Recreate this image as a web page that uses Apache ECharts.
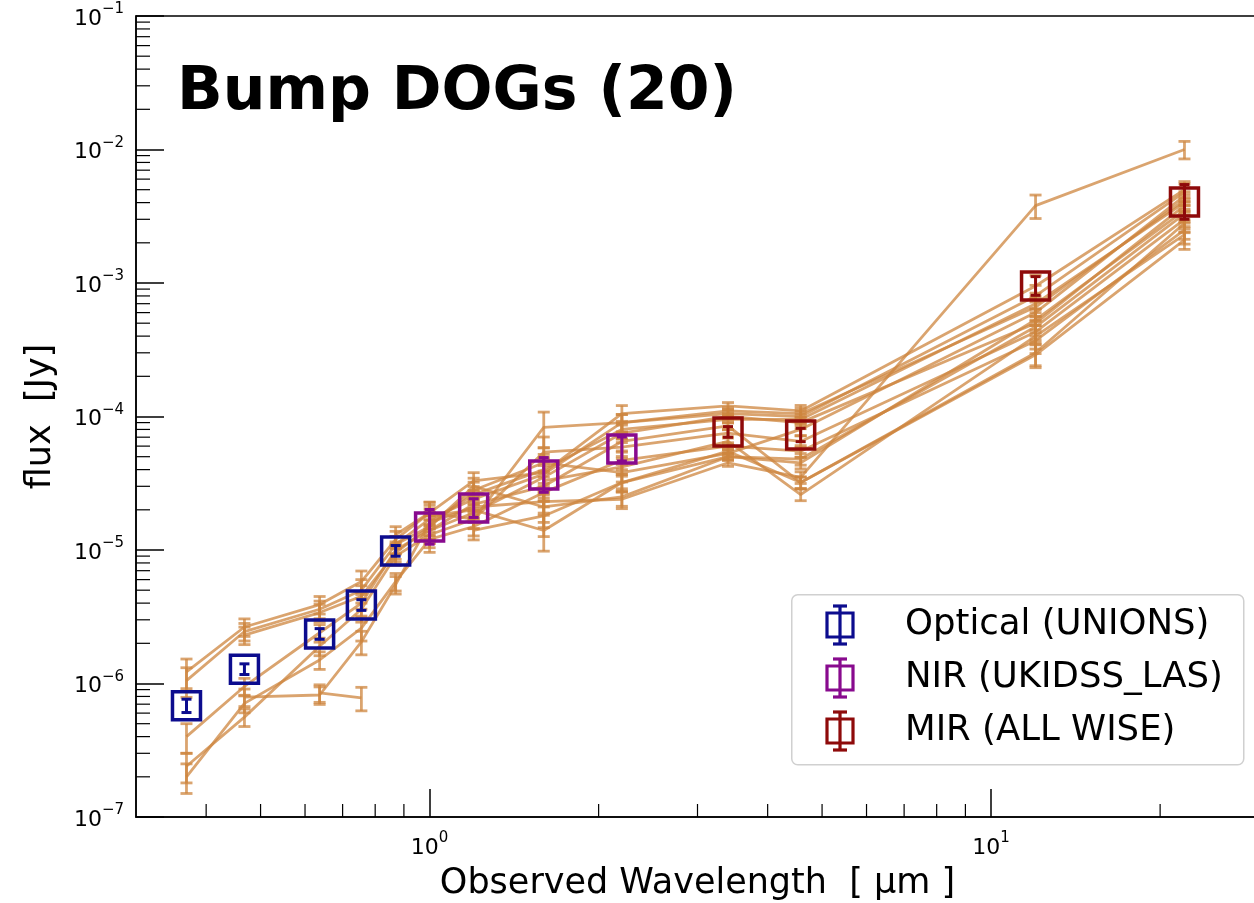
<!DOCTYPE html>
<html>
<head>
<meta charset="utf-8">
<script src="https://cdn.jsdelivr.net/npm/echarts@6/dist/echarts.min.js"></script>
<style>html,body{margin:0;padding:0;background:#fff}#c{width:1254px;height:903px}</style>
</head>
<body>
<div id="c"></div>
<script>
// ---------- DATA ----------
// band wavelengths [um]: u g r i z | Y J H K | W1 W2 W3 W4
const wavelengths = [0.369, 0.468, 0.637, 0.756, 0.870, 1.00, 1.198, 1.597, 2.20, 3.40, 4.58, 12.0, 22.1];
// typical fractional error per band for individual sources
const bandRelErr = [0.25, 0.15, 0.15, 0.2, 0.15, 0.2, 0.15, 0.3, 0.15, 0.06, 0.1, 0.2, 0.15];

// individual sources (flux in Jy, null = no detection)
const src01 = [1.22e-6, 2.65e-6, 3.9e-6, 5.8e-6, 1.2e-5, 1.9e-5, 3.3e-5, 3.8e-5, 1.05e-4, 1.2e-4, 1.1e-4, 9.5e-4, 5.0e-3];
const src02 = [1.05e-6, 2.45e-6, 3.6e-6, 5.0e-6, 1.1e-5, 1.7e-5, 2.4e-5, 3.7e-5, 9.0e-5, 1.1e-4, 1.05e-4, 6.6e-4, 4.2e-3];
const src03 = [null, 2.3e-6, 3.4e-6, 4.5e-6, 9.5e-6, 1.5e-5, 3.0e-5, 2.1e-5, 2.5e-5, 5.0e-5, 4.5e-5, 5.3e-4, 3.5e-3];
const src04 = [4.0e-7, 9.5e-7, 2.4e-6, 4.0e-6, 1.0e-5, 1.4e-5, 1.9e-5, 3.5e-5, 7.5e-5, 1.0e-4, 9.0e-5, 5.0e-4, 3.8e-3];
const src05 = [2.4e-7, 5.6e-7, 1.9e-6, 3.6e-6, 9.0e-6, 1.3e-5, 1.7e-5, 5.4e-5, 5.9e-5, 7.5e-5, 6.5e-5, 4.3e-4, 3.0e-3];
const src06 = [2.0e-7, 7.1e-7, 1.5e-6, 2.6e-6, 5.8e-6, 1.2e-5, 1.5e-5, 2.7e-5, 4.7e-5, 6.0e-5, 5.5e-5, 3.7e-4, 2.5e-3];
const src07 = [null, 7.9e-7, 8.2e-7, 2.05e-6, 5.5e-6, 1.6e-5, 2.1e-5, 2.3e-5, 2.4e-5, 4.5e-5, 3.5e-5, 3.8e-3, 1.0e-2];
const src08 = [null, null, 8.5e-7, 7.8e-7, null, 1.8e-5, 2.0e-5, 1.4e-5, 3.2e-5, 5.5e-5, 3.2e-5, 2.9e-4, 2.1e-3];
const src09 = [null, null, null, null, 1.3e-5, 1.9e-5, 1.7e-5, 8.3e-5, 9.0e-5, 1.05e-4, 1.0e-4, 8.0e-4, 4.8e-3];
const src10 = [null, null, null, null, 1.1e-5, 1.5e-5, 2.8e-5, 4.5e-5, 3.8e-5, 5.3e-5, 8.0e-5, 6.0e-4, 4.5e-3];
const src11 = [null, null, null, null, null, 1.4e-5, 2.2e-5, 3.0e-5, 6.5e-5, 8.5e-5, 3.2e-5, 3.0e-4, 2.8e-3];
const src12 = [null, null, null, null, null, null, 1.4e-5, 1.8e-5, 3.2e-5, 5.0e-5, 4.8e-5, 4.7e-4, 3.3e-3];
const src13 = [null, null, null, null, null, 1.6e-5, 2.6e-5, 4.0e-5, 8.0e-5, 9.5e-5, 9.5e-5, 7.0e-4, 4.0e-3];
const src14 = [null, null, null, null, null, null, null, 3.3e-5, 4.2e-5, 6.5e-5, 2.6e-5, 4.0e-4, 2.3e-3];
const sources = [src01, src02, src03, src04, src05, src06, src07, src08, src09, src10, src11, src12, src13, src14];

// stacked means per survey
const opticalWl = [0.369, 0.468, 0.637, 0.756, 0.870];
const opticalMean = [6.8e-7, 1.28e-6, 2.35e-6, 3.87e-6, 9.85e-6];
const opticalErrDex = [0.05, 0.04, 0.04, 0.04, 0.04];
const nirWl = [1.00, 1.198, 1.597, 2.20];
const nirMean = [1.49e-5, 2.06e-5, 3.65e-5, 5.71e-5];
const nirErrDex = [0.13, 0.07, 0.13, 0.09];
const mirWl = [3.40, 4.58, 12.0, 22.1];
const mirMean = [7.66e-5, 7.27e-5, 9.5e-4, 4.05e-3];
const mirErrDex = [0.04, 0.05, 0.07, 0.13];

const xMinorTicks = [0.4, 0.5, 0.6, 0.7, 0.8, 0.9, 2, 3, 4, 5, 6, 7, 8, 9, 20];
const yMajorTicks = [1e-7, 1e-6, 1e-5, 1e-4, 1e-3, 1e-2, 1e-1];

// ---------- CHART ----------
const ORANGE = 'rgba(205,133,63,0.75)';
const X_MIN = 0.3, X_MAX = 30, Y_MIN = 1e-7, Y_MAX = 1e-1;
const FONT = 'DejaVu Sans';

function sup(v) {
  const l = Math.log10(v), e = Math.round(l);
  if (Math.abs(l - e) > 1e-6) return '';
  return '{b|10}{s|' + (e < 0 ? '\u2212' + (-e) : e) + '}';
}

function errRender(color, cap, lw) {
  return function (params, api) {
    const x = api.value(0), lo = api.value(1), hi = api.value(2);
    const a = api.coord([x, lo]), b = api.coord([x, hi]);
    const st = { stroke: color, lineWidth: lw };
    return { type: 'group', children: [
      { type: 'line', shape: { x1: a[0], y1: a[1], x2: b[0], y2: b[1] }, style: st },
      { type: 'line', shape: { x1: a[0] - cap, y1: a[1], x2: a[0] + cap, y2: a[1] }, style: st },
      { type: 'line', shape: { x1: b[0] - cap, y1: b[1], x2: b[0] + cap, y2: b[1] }, style: st }
    ]};
  };
}

const series = [];
const srcErr = [];
sources.forEach(function (s) {
  const d = [];
  s.forEach(function (v, i) {
    d.push([wavelengths[i], v]);
    if (v != null) srcErr.push([wavelengths[i], v * (1 - bandRelErr[i]), v * (1 + bandRelErr[i])]);
  });
  series.push({ type: 'line', data: d, showSymbol: false, connectNulls: false, silent: true,
    lineStyle: { color: ORANGE, width: 2.8 }, z: 2, animation: false });
});
series.push({ type: 'custom', data: srcErr, renderItem: errRender(ORANGE, 6, 2.8), z: 2, silent: true, animation: false });

function meanSeries(wl, mean, errDex, color) {
  const pts = wl.map(function (w, i) { return [w, mean[i]]; });
  const errs = wl.map(function (w, i) { return [w, mean[i] / Math.pow(10, errDex[i]), mean[i] * Math.pow(10, errDex[i])]; });
  series.push({ type: 'custom', data: errs, renderItem: errRender(color, 5, 3), z: 5, silent: true, animation: false });
  series.push({ type: 'scatter', data: pts, symbol: 'rect', symbolSize: 28, z: 6, silent: true, animation: false,
    itemStyle: { color: 'rgba(0,0,0,0)', borderColor: color, borderWidth: 3.5, opacity: 1 } });
}
meanSeries(opticalWl, opticalMean, opticalErrDex, '#0c0c8e');
meanSeries(nirWl, nirMean, nirErrDex, '#880a8e');
meanSeries(mirWl, mirMean, mirErrDex, '#8e0a0a');

// minor ticks drawn through the axis scales
const yMinor = [];
yMajorTicks.slice(0, -1).forEach(function (m) { for (let k = 2; k <= 9; k++) yMinor.push([X_MIN, m * k]); });
series.push({ type: 'custom', data: yMinor, silent: true, animation: false, z: 10,
  renderItem: function (p, api) { const a = api.coord([api.value(0), api.value(1)]);
    return { type: 'line', shape: { x1: a[0], y1: a[1], x2: a[0] + 14, y2: a[1] }, style: { stroke: '#000', lineWidth: 1.2 } }; } });
series.push({ type: 'custom', data: xMinorTicks.map(function (v) { return [v, Y_MIN]; }), silent: true, animation: false, z: 10,
  renderItem: function (p, api) { const a = api.coord([api.value(0), api.value(1)]);
    return { type: 'line', shape: { x1: a[0], y1: a[1], x2: a[0], y2: a[1] - 13 }, style: { stroke: '#000', lineWidth: 1.2 } }; } });

const chart = echarts.init(document.getElementById('c'), null, { renderer: 'canvas' });
const legendItems = [['Optical (UNIONS)', '#0c0c8e'], ['NIR (UKIDSS_LAS)', '#880a8e'], ['MIR (ALL WISE)', '#8e0a0a']];
const graphic = [{ type: 'rect', left: 791, top: 594, shape: { width: 452, height: 170, r: 6 },
  style: { fill: 'rgba(255,255,255,0.85)', stroke: '#d0d0d0', lineWidth: 1.5 }, z: 20 }];
legendItems.forEach(function (it, i) {
  const cy = 625 + i * 53, cx = 840;
  graphic.push({ type: 'group', z: 21, children: [
    { type: 'rect', shape: { x: cx - 13, y: cy - 12, width: 26, height: 24 }, style: { fill: 'none', stroke: it[1], lineWidth: 3.2 }, z: 21 },
    { type: 'line', shape: { x1: cx, y1: cy - 19, x2: cx, y2: cy + 19 }, style: { stroke: it[1], lineWidth: 3.2 }, z: 21 },
    { type: 'line', shape: { x1: cx - 7, y1: cy - 19, x2: cx + 7, y2: cy - 19 }, style: { stroke: it[1], lineWidth: 3.2 }, z: 21 },
    { type: 'line', shape: { x1: cx - 7, y1: cy + 19, x2: cx + 7, y2: cy + 19 }, style: { stroke: it[1], lineWidth: 3.2 }, z: 21 },
    { type: 'text', style: { x: 905, y: cy, text: it[0], fill: '#000', font: '35.5px "' + FONT + '"', textVerticalAlign: 'middle' }, z: 21 }
  ]});
});

const labelRich = { b: { fontFamily: FONT, fontSize: 22, color: '#000', lineHeight: 28, verticalAlign: 'bottom' },
                    s: { fontFamily: FONT, fontSize: 15, color: '#000', lineHeight: 28, verticalAlign: 'top' } };

chart.setOption({
  animation: false,
  backgroundColor: '#fff',
  title: { text: 'Bump DOGs (20)', left: 172, top: 58,
    textStyle: { fontFamily: FONT, fontWeight: 'bold', fontSize: 60, color: '#000' } },
  grid: { left: 136, top: 16, right: -5, bottom: 86, show: true, borderColor: '#000', borderWidth: 1.5,
    backgroundColor: 'transparent', containLabel: false, outerBoundsMode: 'none' },
  xAxis: { type: 'log', logBase: 10, min: X_MIN, max: X_MAX,
    name: 'Observed Wavelength  [ \u03bcm ]', nameLocation: 'middle', nameGap: 49,
    nameTextStyle: { fontFamily: FONT, fontSize: 35, color: '#000' },
    axisLine: { lineStyle: { color: '#000', width: 1.5 } },
    axisTick: { inside: true, length: 28, lineStyle: { color: '#000', width: 1.5 } },
    splitLine: { show: false },
    axisLabel: { margin: 14, showMinLabel: false, showMaxLabel: false, formatter: function (v) { return sup(v); }, rich: labelRich } },
  yAxis: { type: 'log', logBase: 10, min: Y_MIN, max: Y_MAX, splitNumber: 6,
    name: 'flux  [Jy]', nameLocation: 'middle', nameGap: 78,
    nameTextStyle: { fontFamily: FONT, fontSize: 35, color: '#000' },
    axisLine: { lineStyle: { color: '#000', width: 1.5 } },
    axisTick: { inside: true, length: 28, lineStyle: { color: '#000', width: 1.5 } },
    splitLine: { show: false },
    axisLabel: { margin: 12, formatter: function (v) { return sup(v); }, rich: labelRich } },
  series: series,
  graphic: graphic
});
</script>
</body>
</html>
